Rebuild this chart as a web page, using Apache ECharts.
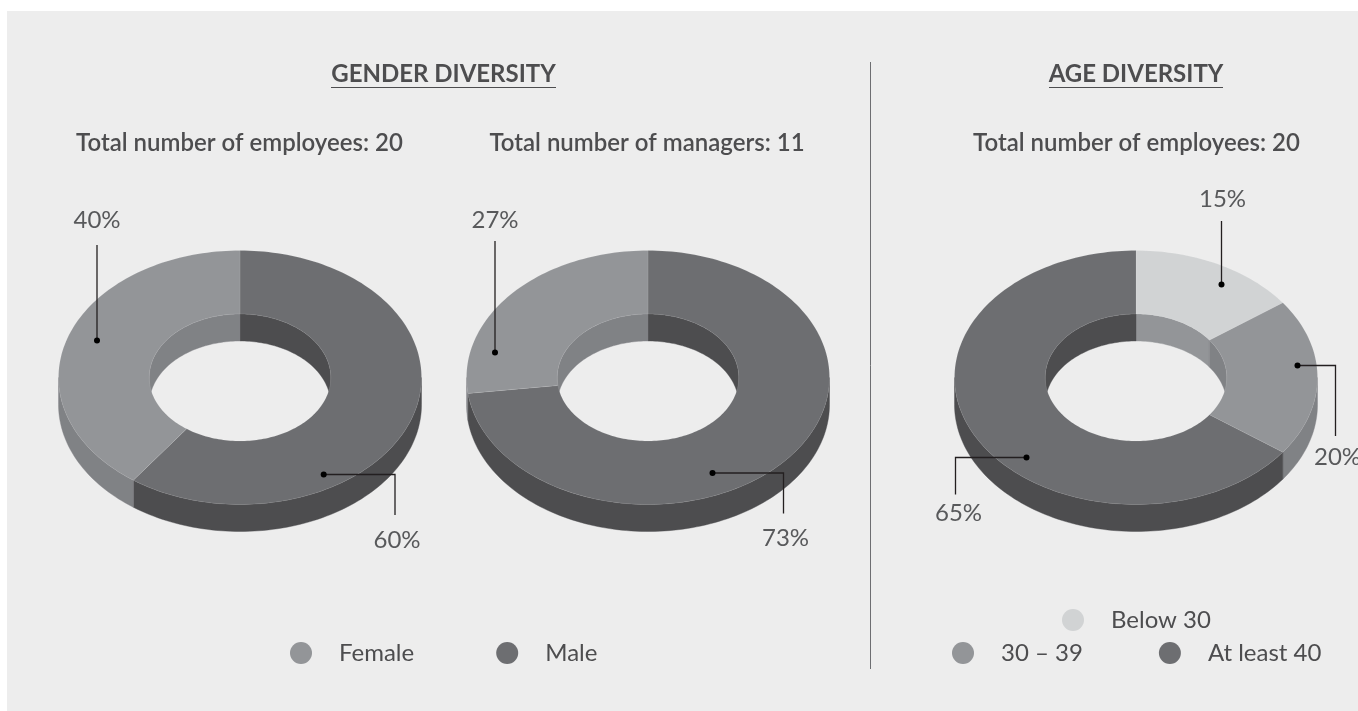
<!DOCTYPE html>
<html>
<head>
<meta charset="utf-8">
<title>Diversity</title>
<script src="https://cdn.jsdelivr.net/npm/echarts@6/dist/echarts.min.js"></script>
<style>
  html, body { margin: 0; padding: 0; background: #fff; overflow: hidden; }
  #main { width: 1358px; height: 711px; }
</style>
</head>
<body>
<div id="main"></div>
<script>
// chart values
const genderCategories = ['Male', 'Female'];
const employeeGenderShare = [60, 40];
const managerGenderShare = [73, 27];
const ageCategories = ['Below 30', '30 – 39', 'At least 40'];
const ageShare = [15, 20, 65];

const TEXT = '#4d4d4f';
const LEADER = '#231f20';
const FONT = 'Lato';
const topColor = { 'Male': '#6d6e71', 'Female': '#939598', 'Below 30': '#d1d3d4', '30 – 39': '#939598', 'At least 40': '#6d6e71' };
const sideColor = { 'Male': '#4d4d4f', 'Female': '#808285', 'Below 30': '#939598', '30 – 39': '#808285', 'At least 40': '#4d4d4f' };

// donut geometry in pixels
const RX = 181.5, RY = 127, CY = 377.5, DEPTH = 27, HOLE = 0.5;

const donuts = [
  {
    cx: 240, cats: genderCategories, values: employeeGenderShare,
    leaders: [
      { pts: [[323.7, 474.5], [395, 474.5], [395, 515]], lx: 397, ly: 541 },
      { pts: [[97, 340.5], [97, 245]], lx: 97, ly: 221 }
    ]
  },
  {
    cx: 648, cats: genderCategories, values: managerGenderShare,
    leaders: [
      { pts: [[712.5, 473], [783.5, 473], [783.5, 513.5]], lx: 785.5, ly: 539 },
      { pts: [[495, 352.5], [495, 241]], lx: 495, ly: 221 }
    ]
  },
  {
    cx: 1136, cats: ageCategories, values: ageShare,
    leaders: [
      { pts: [[1221.5, 284.5], [1221.5, 221]], lx: 1222.5, ly: 200.5 },
      { pts: [[1297.5, 365.5], [1335.5, 365.5], [1335.5, 436]], lx: 1337.5, ly: 458.5 },
      { pts: [[1026.5, 457.5], [955.5, 457.5], [955.5, 494.5]], lx: 958.5, ly: 514.5 }
    ]
  }
];

function arc(api, r, from, to, dy) {
  const pts = [];
  const n = Math.max(2, Math.ceil(Math.abs(to - from) / 1.5));
  for (let i = 0; i <= n; i++) {
    const t = (from + (to - from) * i / n) * Math.PI / 180;
    const p = api.coord([r * Math.sin(t), r * Math.cos(t)]);
    pts.push([p[0], p[1] + dy]);
  }
  return pts;
}

// extruded wall of one slice over the part of the ring that faces the viewer
function wall(api, r, a, b, lo, hi, color) {
  const from = Math.max(a, lo), to = Math.min(b, hi);
  if (to <= from) return null;
  const upper = arc(api, r, from, to, 0);
  const lower = arc(api, r, from, to, DEPTH).reverse();
  return {
    type: 'polygon', z2: 1,
    shape: { points: upper.concat(lower) },
    style: { fill: color, stroke: color, lineWidth: 0.4 }
  };
}

function renderSlice(params, api) {
  const a = api.value(0) * 3.6;
  const b = a + api.value(1) * 3.6;
  const name = params.seriesName;
  const children = [];
  // outer wall is the front half, hole wall is the back half (also its 270-360 part)
  [wall(api, 1, a, b, 90, 270, sideColor[name]),
   wall(api, HOLE, a, b, 0, 90, sideColor[name]),
   wall(api, HOLE, a, b, 270, 360, sideColor[name])].forEach(w => { if (w) children.push(w); });
  children.push({
    type: 'polygon', z2: 2,
    shape: { points: arc(api, 1, a, b, 0).concat(arc(api, HOLE, b, a, 0)) },
    style: { fill: topColor[name], stroke: 'rgba(255,255,255,0.18)', lineWidth: 0.5 }
  });
  return { type: 'group', children };
}

const grids = [], xAxes = [], yAxes = [], series = [];
donuts.forEach((d, i) => {
  grids.push({ left: d.cx - RX, top: CY - RY, width: RX * 2, height: RY * 2 });
  xAxes.push({ type: 'value', gridIndex: i, min: -1, max: 1, show: false });
  yAxes.push({ type: 'value', gridIndex: i, min: -1, max: 1, show: false });
  let start = 0;
  d.cats.forEach((name, j) => {
    series.push({
      type: 'custom', name, xAxisIndex: i, yAxisIndex: i,
      clip: false, silent: true, animation: false,
      itemStyle: { color: topColor[name] },
      renderItem: renderSlice,
      data: [[start, d.values[j]]]
    });
    start += d.values[j];
  });
});

// leaders and percent labels
const leaderGraphics = [];
donuts.forEach(d => {
  d.leaders.forEach((l, j) => {
    leaderGraphics.push({
      type: 'polyline', z: 10, shape: { points: l.pts },
      style: { fill: null, stroke: LEADER, lineWidth: 1.3 }
    });
    leaderGraphics.push({
      type: 'circle', z: 11, shape: { cx: l.pts[0][0], cy: l.pts[0][1], r: 3 },
      style: { fill: '#000' }
    });
    leaderGraphics.push({
      type: 'text', z: 10, x: l.lx, y: l.ly - 1,
      style: { text: d.values[j] + '%', font: '24px ' + FONT, fill: '#58595b', align: 'center', verticalAlign: 'middle' }
    });
  });
});

function heading(text, left, top, weight) {
  return { text, left, top, textAlign: 'center', textVerticalAlign: 'middle', padding: 0,
    textStyle: { fontFamily: FONT, fontSize: 24, fontWeight: weight, color: TEXT } };
}

function legend(names, left, top, itemGap) {
  return {
    left, top, orient: 'horizontal', padding: 0, itemGap,
    itemWidth: 22, itemHeight: 22, icon: 'circle', selectedMode: false,
    data: names,
    textStyle: { fontFamily: FONT, fontSize: 24, color: TEXT, padding: [0, 0, 0, 22] }
  };
}

const chart = echarts.init(document.getElementById('main'), null, { renderer: 'canvas' });
chart.setOption({
  animation: false,
  backgroundColor: '#fff',
  title: [
    heading('GENDER DIVERSITY', 443.5, 74, 700),
    heading('AGE DIVERSITY', 1136, 74, 700),
    heading('Total number of employees: 20', 239.5, 143, 600),
    heading('Total number of managers: 11', 647, 143, 600),
    heading('Total number of employees: 20', 1136.5, 143, 600)
  ],
  grid: grids,
  xAxis: xAxes,
  yAxis: yAxes,
  legend: [
    legend(['Female', 'Male'], 290, 641, 82),
    legend(['Below 30'], 1062, 608, 0),
    legend(['30 – 39', 'At least 40'], 952, 641, 76)
  ],
  series,
  graphic: [
    { type: 'rect', z: -10, shape: { x: 7, y: 11, width: 1351, height: 700 }, style: { fill: '#ededed' } },
    { type: 'line', z: 5, shape: { x1: 870.5, y1: 62, x2: 870.5, y2: 669 }, style: { stroke: '#6d6e71', lineWidth: 1 } },
    { type: 'line', z: 5, shape: { x1: 331, y1: 87.5, x2: 556, y2: 87.5 }, style: { stroke: TEXT, lineWidth: 1 } },
    { type: 'line', z: 5, shape: { x1: 1049, y1: 87.5, x2: 1223, y2: 87.5 }, style: { stroke: TEXT, lineWidth: 1 } }
  ].concat(leaderGraphics)
});
</script>
</body>
</html>
